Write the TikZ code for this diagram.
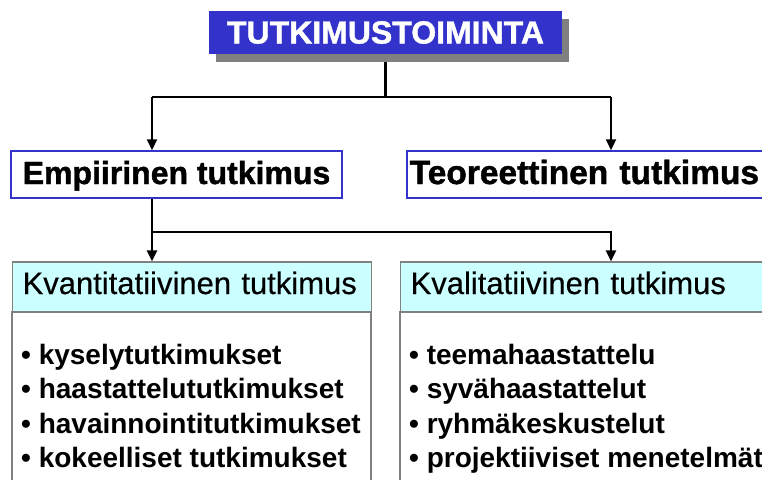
\documentclass[tikz,border=0pt]{standalone}
\usepackage{fontspec}
\setmainfont{Liberation Sans}
\newfontfamily\heavyfont[FakeBold=1.3]{Liberation Sans Bold}
\newfontfamily\headfont[FakeBold=0.4]{Liberation Sans}
\usetikzlibrary{arrows.meta, shadows}
\definecolor{titleblue}{RGB}{51,51,204}
\definecolor{headcyan}{RGB}{204,255,255}
\definecolor{boxgray}{RGB}{128,128,128}

\begin{document}
\begin{tikzpicture}[x=1pt, y=-1pt,
	line/.style = {line width=2.2pt},
	arr/.style = {line width=2.2pt, -{Triangle[width=10pt,length=11pt]}},
	top/.style = {fill=titleblue, text=white, font=\fontsize{32}{38}\heavyfont,
		minimum width=353pt, minimum height=43pt, inner sep=0pt,
		drop shadow={shadow xshift=7pt, shadow yshift=-8pt, fill=boxgray, opacity=1}},
	kind/.style = {draw=titleblue, line width=1.5pt, fill=white,
		minimum height=47pt, inner ysep=0pt, text height=23pt, text depth=4pt},
	head/.style = {draw=boxgray, line width=1.2pt, fill=headcyan, font=\fontsize{31}{36}\headfont,
		minimum height=50pt, inner ysep=0pt, inner xsep=10pt, align=left, text height=22pt, text depth=8pt},
	body/.style = {draw=boxgray, line width=1.2pt, fill=white, inner sep=0pt},
	item/.style = {anchor=base west, font=\fontsize{28}{34}\selectfont\bfseries, inner sep=0pt}]
			\useasboundingbox (0,0) rectangle (762,479);
			\clip (0,0) rectangle (762,479);

			\node[top] (title) at (385.5,32.5) {TUTKIMUSTOIMINTA};
			\node[kind, minimum width=331pt, font=\fontsize{32}{38}\heavyfont] (empi) at (176.5,174.5) {Empiirinen tutkimus};
			\node[kind, anchor=west, text width=364pt, inner xsep=3pt, align=left, font=\fontsize{33.5}{38}\heavyfont] (teor) at (406,174.5) {Teoreettinen tutkimus};

			\node[body, minimum width=359pt, minimum height=208pt] (quantbody) at (191.5,416) {};
			\node[body, minimum width=390pt, minimum height=208pt] (qualbody) at (595,416) {};
			\node[head, anchor=west, text width=339pt] (quanthead) at (12,287) {Kvantitatiivinen tutkimus};
			\node[head, anchor=west, text width=370pt] (qualhead) at (400,287) {Kvalitatiivinen tutkimus};

			\node[item] (q1) at (21,364) {• kyselytutkimukset};
			\node[item] (q2) at (21,398.5) {• haastattelututkimukset};
			\node[item] (q3) at (21,433) {• havainnointitutkimukset};
			\node[item] (q4) at (21,467.5) {• kokeelliset tutkimukset};
			\node[item] (k1) at (409,364) {• teemahaastattelu};
			\node[item] (k2) at (409,398.5) {• syvähaastattelut};
			\node[item] (k3) at (409,433) {• ryhmäkeskustelut};
			\node[item] (k4) at (409,467.5) {• projektiiviset menetelmät};

			\coordinate (j1) at (152,97);
			\coordinate (j2) at (611,97);
			\coordinate (j3) at (152,232);
			\coordinate (j4) at (611,232);

			\draw[line] ([yshift=-8pt]title.south) -- (title.south |- j1);
			\draw[line] (j1) -- (j2);
			\draw[arr] (j1) -- (j1 |- empi.north);
			\draw[arr] (j2) -- (j2 |- teor.north);
			\draw[arr] (j1 |- empi.south) -- (j1 |- quanthead.north);
			\draw[arr] (j3) -- (j4) -- (j4 |- qualhead.north);
		\end{tikzpicture}
\end{document}
